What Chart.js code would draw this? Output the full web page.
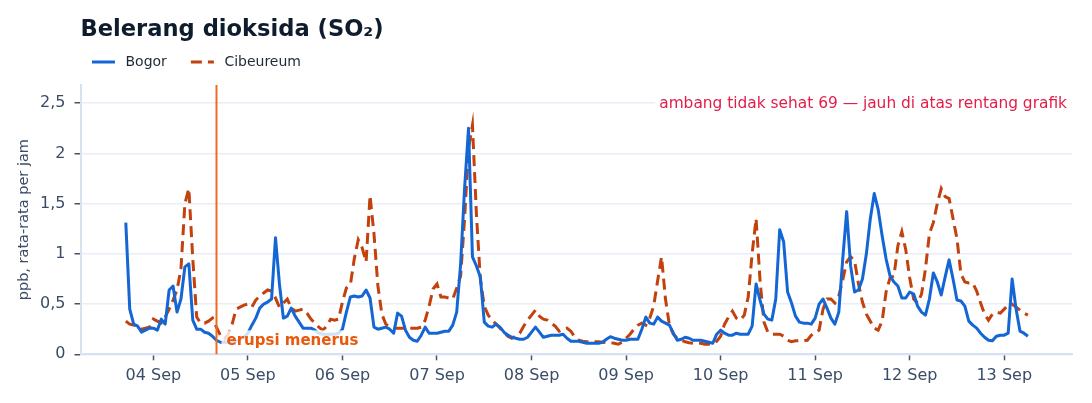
<!DOCTYPE html>
<html><head><meta charset="utf-8">
<script src="https://cdn.jsdelivr.net/npm/chart.js@4.4.1/dist/chart.umd.min.js"></script>
<style>html,body{margin:0;padding:0;background:#fff}#wrap{width:1092px;height:403px;position:relative}</style>
</head><body><div id="wrap"><canvas id="c"></canvas></div>
<script>
// hours counted from 04 Sep 00:00; first reading 03 Sep 17:00
const firstHour = -7;
const bogor = [
 1.31,0.45,0.30,0.28,0.22,0.24,0.26,
 0.26,0.24,0.35,0.30,0.64,0.68,0.42,0.55,0.87,0.90,0.34,0.25,0.25,0.22,0.21,0.18,0.14,0.12,0.12,0.12,0.12,0.13,0.15,0.17,
 0.21,0.29,0.36,0.46,0.50,0.52,0.55,1.16,0.70,0.36,0.38,0.46,0.38,0.32,0.26,0.26,0.26,0.24,0.21,0.20,0.20,0.20,0.20,0.21,
 0.25,0.42,0.57,0.58,0.57,0.58,0.64,0.56,0.27,0.25,0.26,0.27,0.25,0.21,0.41,0.38,0.24,0.17,0.14,0.13,0.19,0.27,0.21,0.21,
 0.21,0.22,0.23,0.23,0.29,0.42,0.90,1.65,2.25,0.97,0.88,0.77,0.32,0.28,0.27,0.30,0.27,0.22,0.19,0.17,0.16,0.15,0.15,0.17,
 0.22,0.27,0.22,0.17,0.18,0.19,0.19,0.19,0.20,0.16,0.13,0.13,0.13,0.12,0.11,0.11,0.11,0.11,0.12,0.15,0.175,0.16,0.15,0.14,
 0.14,0.15,0.15,0.15,0.25,0.37,0.31,0.30,0.37,0.33,0.31,0.29,0.21,0.14,0.15,0.17,0.16,0.14,0.14,0.14,0.13,0.12,0.11,0.20,
 0.24,0.21,0.19,0.19,0.21,0.20,0.20,0.20,0.28,0.70,0.54,0.40,0.35,0.34,0.55,1.24,1.12,0.62,0.51,0.38,0.32,0.31,0.31,0.30,
 0.36,0.50,0.55,0.46,0.36,0.30,0.42,0.95,1.42,0.88,0.62,0.64,0.75,1.00,1.35,1.60,1.44,1.18,0.95,0.78,0.72,0.68,0.56,0.56,
 0.62,0.60,0.48,0.42,0.39,0.55,0.81,0.72,0.59,0.77,0.94,0.75,0.54,0.53,0.48,0.33,0.29,0.26,0.21,0.17,0.14,0.135,0.18,0.19,
 0.19,0.21,0.75,0.45,0.23,0.21,0.18
];
const cibeureum = [
 0.33,0.30,0.29,0.28,0.25,0.26,0.27,
 0.35,0.33,0.31,0.37,0.45,0.54,0.64,0.85,1.50,1.65,0.95,0.37,0.31,0.31,0.33,0.36,0.27,0.19,0.15,0.20,0.30,0.45,0.47,0.49,
 0.50,0.47,0.54,0.58,0.61,0.64,0.63,0.56,0.47,0.51,0.55,0.46,0.43,0.44,0.45,0.41,0.35,0.31,0.27,0.24,0.28,0.35,0.34,0.35,
 0.52,0.66,0.69,0.95,1.14,1.06,0.92,1.58,1.20,0.68,0.40,0.30,0.27,0.26,0.26,0.26,0.26,0.26,0.26,0.26,0.27,0.34,0.48,0.65,
 0.70,0.57,0.57,0.56,0.55,0.66,0.78,1.35,2.05,2.28,1.40,0.75,0.48,0.39,0.34,0.30,0.26,0.22,0.18,0.16,0.18,0.21,0.28,0.34,
 0.39,0.44,0.38,0.35,0.34,0.31,0.28,0.23,0.25,0.26,0.23,0.17,0.14,0.13,0.125,0.125,0.125,0.125,0.12,0.115,0.115,0.11,0.10,0.12,
 0.16,0.20,0.25,0.29,0.31,0.29,0.36,0.48,0.73,0.97,0.55,0.29,0.20,0.16,0.14,0.125,0.115,0.11,0.11,0.11,0.10,0.10,0.11,0.13,
 0.18,0.30,0.37,0.43,0.36,0.34,0.39,0.57,1.00,1.35,0.74,0.32,0.22,0.20,0.20,0.20,0.18,0.14,0.125,0.135,0.135,0.135,0.14,0.19,
 0.22,0.24,0.45,0.55,0.55,0.51,0.58,0.74,0.92,0.97,0.93,0.70,0.52,0.40,0.33,0.26,0.24,0.33,0.62,0.76,0.78,1.08,1.22,1.04,
 0.76,0.55,0.51,0.60,0.85,1.20,1.31,1.50,1.65,1.57,1.55,1.35,1.15,0.80,0.72,0.71,0.71,0.63,0.51,0.40,0.34,0.40,0.42,0.41,
 0.45,0.49,0.50,0.47,0.44,0.41,0.39
];
const tickHours = [0,24,48,72,96,120,144,168,192,216];
const tickLabels = ['04 Sep','05 Sep','06 Sep','07 Sep','08 Sep','09 Sep','10 Sep','11 Sep','12 Sep','13 Sep'];
const yTicks = [0,0.5,1,1.5,2,2.5];
const seriesNames = ['Bogor','Cibeureum'];
const eruptionHour = 16;
const eruptionText = 'erupsi menerus';
const thresholdValue = 2.5; // note is placed on the top gridline
const thresholdText = 'ambang tidak sehat 69 — jauh di atas rentang grafik';
const titleText = 'Belerang dioksida (SO₂)';
const yTitle = 'ppb, rata-rata per jam';

const hours = bogor.map((_, i) => firstHour + i);
const pts = arr => arr.map((v, i) => ({x: hours[i], y: v}));

Chart.defaults.font.family = "'DejaVu Sans', sans-serif";
const tickCol = '#3b4d66';

const overlay = {
  id: 'overlay',
  afterDatasetsDraw(chart) {
    const {ctx, chartArea: a, scales: {x, y}} = chart;
    ctx.save();
    const vx = Math.round(x.getPixelForValue(eruptionHour)) + 0.5;
    ctx.strokeStyle = '#f06a22'; ctx.lineWidth = 2;
    ctx.beginPath(); ctx.moveTo(vx, a.top); ctx.lineTo(vx, a.bottom); ctx.stroke();
    ctx.font = "bold 15px 'DejaVu Sans'";
    ctx.textBaseline = 'middle'; ctx.textAlign = 'left';
    let tw = ctx.measureText(eruptionText).width;
    const lx = vx + 10, ly = a.bottom - 13;
    ctx.fillStyle = 'rgba(255,255,255,0.8)';
    ctx.fillRect(lx - 5, ly - 11, tw + 10, 22);
    ctx.fillStyle = '#e8590c';
    ctx.fillText(eruptionText, lx, ly);

    ctx.font = "15.4px 'DejaVu Sans'";
    tw = ctx.measureText(thresholdText).width;
    const rx = a.right - 5, ry = y.getPixelForValue(thresholdValue) + 0.5;
    ctx.fillStyle = 'rgba(255,255,255,0.9)';
    ctx.fillRect(rx - tw - 4, ry - 10, tw + 8, 20);
    ctx.fillStyle = '#e11d48'; ctx.textAlign = 'right';
    ctx.fillText(thresholdText, rx, ry);
    ctx.restore();
  }
};

const legendPlug = {
  id: 'legendPlug',
  afterDraw(chart) {
    const {ctx, chartArea: a} = chart;
    ctx.save();
    ctx.font = "14px 'DejaVu Sans'";
    ctx.textBaseline = 'middle'; ctx.textAlign = 'left';
    let cx = a.left + 11.5;
    const ly = 62;
    chart.data.datasets.forEach(ds => {
      ctx.strokeStyle = ds.borderColor; ctx.lineWidth = 3;
      ctx.setLineDash(ds.borderDash || []);
      ctx.beginPath(); ctx.moveTo(cx, ly); ctx.lineTo(cx + 23, ly); ctx.stroke();
      ctx.setLineDash([]);
      ctx.fillStyle = '#1f2937';
      const tx = cx + 33.5;
      ctx.fillText(ds.label, tx, ly + 0.5);
      cx = tx + ctx.measureText(ds.label).width + 24;
    });
    ctx.restore();
  }
};

new Chart(document.getElementById('c'), {
  type: 'line',
  data: {
    datasets: [
      {label: seriesNames[0], data: pts(bogor), borderColor: '#1366d4', borderWidth: 3, pointRadius: 0, tension: 0, borderJoinStyle: 'round', fill: false},
      {label: seriesNames[1], data: pts(cibeureum), borderColor: '#c2410c', borderWidth: 3, borderDash: [11, 6], pointRadius: 0, tension: 0, fill: false}
    ]
  },
  options: {
    responsive: true, maintainAspectRatio: false, animation: false,
    layout: {padding: {left: 0, right: 20, top: 0, bottom: 0}},
    plugins: {
      legend: {display: false},
      tooltip: {enabled: false},
      title: {display: true, text: titleText, align: 'start', fullSize: false, color: '#0f1c2e',
        font: {size: 22.6, weight: 'bold'}, padding: {top: 17, bottom: 40.9}}
    },
    scales: {
      x: {
        type: 'linear', min: -18.5, max: 233.2,
        afterBuildTicks: s => { s.ticks = tickHours.map(v => ({value: v})); },
        afterFit: s => { s.height = 48.7; },
        ticks: {callback: v => tickLabels[tickHours.indexOf(v)], color: tickCol, font: {size: 16}, padding: 6, maxRotation: 0, autoSkip: false},
        grid: {drawOnChartArea: false, drawTicks: true, tickLength: 6, tickColor: '#44546a', tickWidth: 1.5},
        border: {color: '#d6e2f0', width: 2}
      },
      y: {
        min: 0, max: 2.68,
        afterBuildTicks: s => { s.ticks = yTicks.map(v => ({value: v})); },
        afterFit: s => { s.width = 80.5; },
        ticks: {callback: v => String(v).replace('.', ','), color: tickCol, font: {size: 16}, padding: 9},
        grid: {color: '#e8eef7', lineWidth: 1.5, tickColor: '#44546a', tickLength: 6, tickWidth: 1.5},
        border: {color: '#d6e2f0', width: 2},
        title: {display: true, text: yTitle, color: tickCol, font: {size: 14.5}, padding: {top: 16, bottom: 0}}
      }
    }
  },
  plugins: [overlay, legendPlug]
});
</script></body></html>
